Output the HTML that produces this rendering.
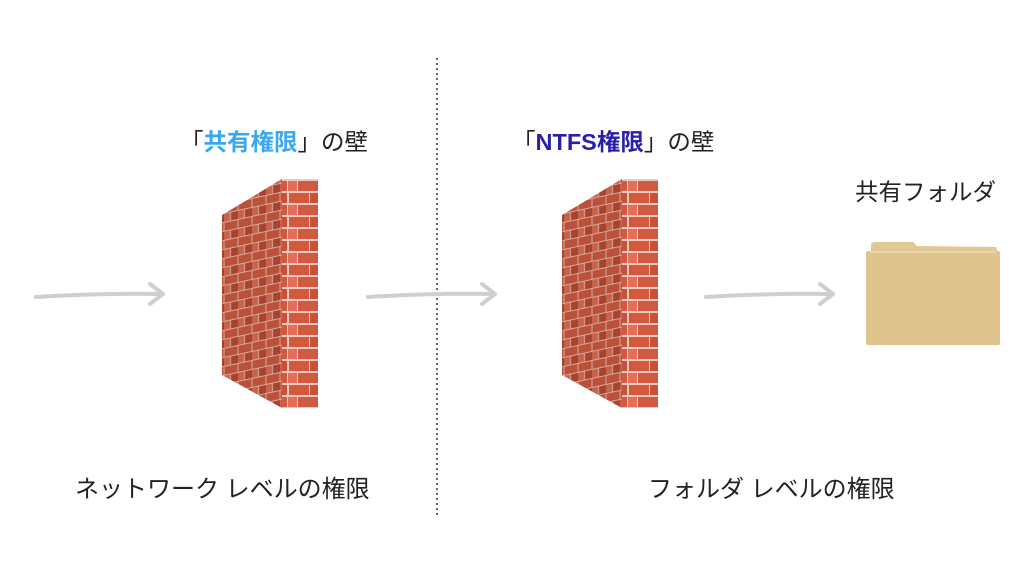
<!DOCTYPE html>
<html><head><meta charset="utf-8"><style>
body{margin:0;width:1024px;height:576px;background:#fff;overflow:hidden;position:relative;font-family:"Liberation Sans","Noto Sans CJK JP",sans-serif;color:#222}
.t{position:absolute;font-size:23.5px;white-space:nowrap;line-height:1}
</style></head><body>
<svg width="1024" height="576" style="position:absolute;left:0;top:0">
<defs>
<pattern id="front" width="36" height="24" patternUnits="userSpaceOnUse">
<rect width="36" height="24" fill="#e6c9bf"/>
<rect x="1" y="1" width="20" height="10" fill="#d4573e"/><rect x="22" y="1" width="13" height="10" fill="#c9503a"/>
<rect x="0" y="13" width="9" height="10" fill="#e07158"/><rect x="10" y="13" width="25" height="10" fill="#d05a41"/>
</pattern>
<pattern id="side" width="14" height="18" patternUnits="userSpaceOnUse" patternTransform="skewY(-12)">
<rect width="14" height="18" fill="#d9a899"/>
<rect x="0.5" y="0.5" width="13" height="8" fill="#b9513b"/>
<rect x="0" y="9.5" width="6" height="8" fill="#c7634c"/><rect x="7" y="9.5" width="7" height="8" fill="#a84330"/>
</pattern>
<g id="wall">
<polygon points="222,215 282,179 282,408 222,375" fill="url(#side)"/>
<rect x="282" y="179" width="36" height="229" fill="url(#front)"/>
</g>
</defs>
<use href="#wall"/>
<use href="#wall" x="340"/>
<line x1="437" y1="58" x2="437" y2="516" stroke="#333" stroke-width="1.5" stroke-dasharray="2,3"/>
<g stroke="#cfcfcf" stroke-width="4" fill="none" stroke-linecap="round" stroke-linejoin="round">
<path d="M36,297 Q100,293 162,294"/><path d="M150,284 L163,294 L150,304"/>
<path d="M368,297 Q430,293 494,294"/><path d="M482,284 L495,294 L482,304"/>
<path d="M706,297 Q770,293 832,294"/><path d="M820,284 L833,294 L820,304"/>
</g>
<path d="M871,250 L871,244 Q872,242 875,242 L912,242 Q915,242 916,246 L996,247 L998,252 L871,252Z" fill="#e2c894"/>
<rect x="866" y="251" width="134" height="94" rx="2" fill="#e0c48e"/>
<line x1="870" y1="252" x2="996" y2="252" stroke="#f3e4c2" stroke-width="1"/>
</svg>
<div class="t" style="left:180px;top:131px">「<b style="color:#39a9ef">共有権限</b>」の壁</div>
<div class="t" style="left:512px;top:131px">「<b style="color:#2a1fa8">NTFS権限</b>」の壁</div>
<div class="t" style="left:855px;top:181px">共有フォルダ</div>
<div class="t" style="left:75px;top:478px;font-size:24px">ネットワーク レベルの権限</div>
<div class="t" style="left:648px;top:478px;font-size:24px">フォルダ レベルの権限</div>
</body></html>
